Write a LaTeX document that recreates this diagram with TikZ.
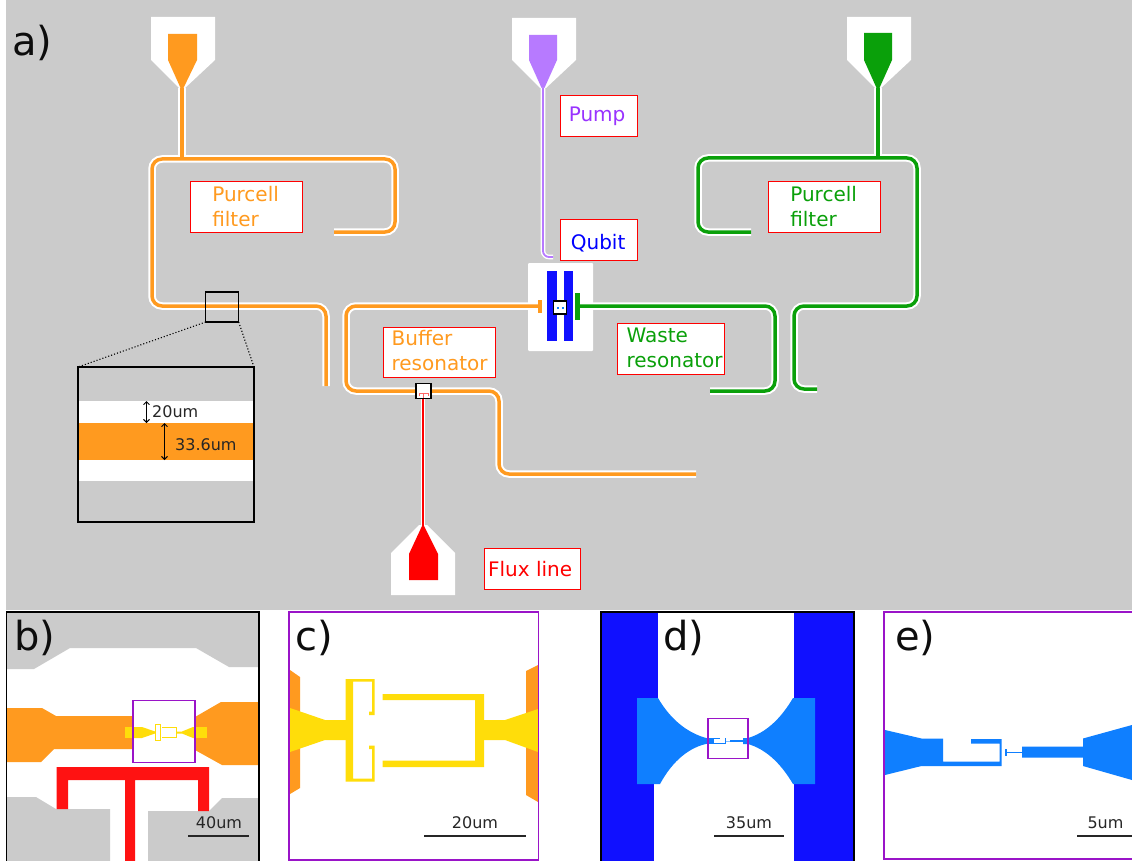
\documentclass[tikz,border=0pt]{standalone}
\usepackage{fontspec}
\setmainfont{DejaVu Sans}
\usetikzlibrary{arrows.meta}
\definecolor{chipgray}{HTML}{CBCBCB}
\definecolor{traceorange}{HTML}{FF9A1F}
\definecolor{tracepurple}{HTML}{B77AFF}
\definecolor{labelpurple}{HTML}{9933FF}
\definecolor{tracegreen}{HTML}{0AA00A}
\definecolor{qubitblue}{HTML}{1010FF}
\definecolor{jjblue}{HTML}{0F7FFF}
\definecolor{fluxred}{HTML}{FF1212}
\definecolor{jjyellow}{HTML}{FFDD0A}
\definecolor{framepurple}{HTML}{9A14C8}

\begin{document}
\begin{tikzpicture}[x=1pt,y=-1pt]
        \tikzset{label style/.style={draw=red, fill=white, line width=1.2pt, anchor=north west, align=left, inner sep=0pt, font=\fontsize{20}{25}\selectfont}}
        \tikzset{trace style/.style={draw=white, line width=2pt, double=#1, double distance=3.5pt, rounded corners=10pt}}
        \tikzset{thin trace style/.style={draw=white, line width=1.4pt, double=#1, double distance=1.8pt, rounded corners=6pt}}
        \tikzset{panel text/.style={anchor=base west, inner sep=0pt, text=black!95, font=\fontsize{40}{42}\selectfont}}
        \tikzset{scale text/.style={inner sep=0pt, text=black!85, font=\fontsize{16}{18}\selectfont}}
        \tikzset{scale bar/.style={line width=1.2pt, black!85}}
        \tikzset{zoom box/.style={draw=black, line width=1.2pt, inner sep=0pt, outer sep=0pt}}

        \useasboundingbox (0,0) rectangle (1132,861);
        \fill[white] (0,0) rectangle (1132,861);
        \fill[chipgray] (6,0) rectangle (1132,610);

        % launch pads
        \fill[white] (151,17) -- (215,17) -- (215,60) -- (185,88) -- (179,88) -- (151,60) -- cycle;
        \fill[traceorange] (168,34) -- (197,34) -- (197,60) -- (183,89) -- (181,89) -- (168,60) -- cycle;
        \fill[white] (512,18) -- (576,18) -- (576,60) -- (546,88) -- (540,88) -- (512,60) -- cycle;
        \fill[tracepurple] (529,35) -- (557,35) -- (557,60) -- (544,89) -- (542,89) -- (529,60) -- cycle;
        \fill[white] (847,17) -- (911,17) -- (911,60) -- (881,88) -- (875,88) -- (847,60) -- cycle;
        \fill[tracegreen] (864,33) -- (892,33) -- (892,60) -- (879,89) -- (877,89) -- (864,60) -- cycle;
        \fill[white] (391,595) -- (455,595) -- (455,553) -- (427,525) -- (419,525) -- (391,553) -- cycle;
        \fill[red] (409,580) -- (438,580) -- (438,554) -- (424,526) -- (422,526) -- (409,554) -- cycle;

        % qubit island
        \fill[white, rounded corners=1pt] (528,263) rectangle (593,351);

        % feed lines and resonators
        \draw[trace style=traceorange] (182,88) -- (182,157);
        \draw[trace style=tracegreen] (878,88) -- (878,156);
        \draw[trace style=traceorange] (334,232) -- (395,232) -- (395,159) -- (152,159) -- (152,306) -- (326,306) -- (326,386);
        \draw[trace style=tracegreen] (751,232) -- (698,232) -- (698,158) -- (917,158) -- (917,306) -- (794,306) -- (794,389) -- (817,389);
        \draw[trace style=traceorange] (538,306) -- (346,306) -- (346,391) -- (499,391) -- (499,474) -- (696,474);
        \draw[trace style=tracegreen] (578,306) -- (775,306) -- (775,391) -- (710,391);
        \fill[traceorange] (180.2,150) rectangle (183.8,159);
        \fill[tracegreen] (876.2,150) rectangle (879.8,158);
        \draw[thin trace style=tracepurple] (543,88) -- (543,257) -- (553,257);
        \draw[draw=white, line width=1pt, double=red, double distance=2.6pt] (423,398) -- (423,526);

        \fill[qubitblue] (547,271) rectangle (556.5,341);
        \fill[qubitblue] (563.5,271) rectangle (573,341);
        \fill[traceorange] (537.5,300) rectangle (542,313);
        \fill[tracegreen] (575,293) rectangle (580,320);
        \node[zoom box, fill=white, minimum width=13pt, minimum height=13pt] (qubitzoom) at (560,307.5) {};
        \fill[jjblue] (557,306.5) rectangle (559,308.5);
        \fill[jjblue] (561.5,306.5) rectangle (563.5,308.5);

        % flux line end
        \node[zoom box, fill=white, minimum width=15pt, minimum height=14.5pt] (fluxzoom) at (423.4,391) {};
        \draw[red!60, line width=.6pt] (419,396) -- (419,393) -- (428,393) -- (428,396);
        \draw[red!60, line width=.6pt] (423.4,393) -- (423.4,398);

        % zoom on the trace
        \fill[chipgray] (78,367) rectangle (254,522);
        \fill[white] (79,401) rectangle (254,481);
        \fill[traceorange] (79,423) rectangle (254,460);
        \node[zoom box, minimum width=33pt, minimum height=30pt] (tracezoom) at (222.2,307) {};
        \node[zoom box, line width=2.5pt, minimum width=176pt, minimum height=155pt] (traceinset) at (166,444.5) {};
        \draw[dotted, line width=1.1pt] (tracezoom.south west) -- (traceinset.north west);
        \draw[dotted, line width=1.1pt] (tracezoom.south east) -- (traceinset.north east);
        \coordinate (gaptop) at (146.5,401);
        \coordinate (gapbottom) at (146.5,423);
        \coordinate (widthtop) at (164.5,423);
        \coordinate (widthbottom) at (164.5,460);
        \draw[{Straight Barb[length=3pt,width=6pt]}-{Straight Barb[length=3pt,width=6pt]}, line width=.9pt] (gaptop) -- (gapbottom);
        \draw[{Straight Barb[length=3pt,width=6pt]}-{Straight Barb[length=3pt,width=6pt]}, line width=.9pt] (widthtop) -- (widthbottom);
        \node[scale text, anchor=west] (gaplabel) at (152,411.5) {20um};
        \node[scale text, anchor=west] (widthlabel) at (175,445) {33.6um};

        % labels
        \node[panel text] (panela) at (12,56) {a)};
        \node[label style, text=traceorange, minimum width=112pt, minimum height=51pt, text depth=2pt] (purcellleft) at (190,181) {Purcell\kern2pt\\filter};
        \node[label style, text=tracegreen, minimum width=112pt, minimum height=51pt, text depth=2pt] (purcellright) at (768,181) {Purcell\kern2pt\\filter};
        \node[label style, text=labelpurple, minimum width=77pt, minimum height=41pt] (pump) at (560,95) {Pump\kern4pt};
        \node[label style, text=blue, minimum width=77pt, minimum height=41pt, text height=18pt, text depth=0pt] (qubit) at (560,219) {Qubit\kern2pt};
        \node[label style, text=traceorange, minimum width=112pt, minimum height=50pt, text depth=4pt] (buffer) at (383,327) {Buffer\\resonator};
        \node[label style, text=tracegreen, minimum width=107pt, minimum height=51pt, text depth=2pt] (waste) at (617,323) {\kern7pt Waste\\\kern7pt resonator};
        \node[label style, text=red, minimum width=96pt, minimum height=41pt] (fluxlabel) at (484,548) {Flux line\kern5pt};

        % panel b
        \fill[chipgray] (7,612) -- (258,612) -- (258,667) -- (229,667) -- (196,648) -- (70,648) -- (34,669) -- (7,669) -- cycle;
        \fill[chipgray] (7,797) -- (36,797) -- (56,809) -- (110,809) -- (110,861) -- (7,861) -- cycle;
        \fill[chipgray] (148,811) -- (209,811) -- (222,798) -- (258,798) -- (258,861) -- (148,861) -- cycle;
        \fill[traceorange] (7,708) -- (42,708) -- (56,716) -- (133,716) -- (133,749) -- (54,749) -- (41,762) -- (7,762) -- cycle;
        \fill[traceorange] (195,717) -- (221,702) -- (258,702) -- (258,765) -- (222,765) -- (195,750) -- cycle;
        \fill[fluxred] (56.5,767) -- (209,767) -- (209,811) -- (198,811) -- (198,780) -- (135,780) -- (135,861) -- (125,861) -- (125,780) -- (68,780) -- (68,809) -- (56.5,809) -- cycle;
        \fill[jjyellow] (125,727) rectangle (133,738);
        \fill[jjyellow] (195,727) rectangle (207,738);
        \fill[jjyellow] (133,727) -- (142,727) -- (155,731.5) -- (155,733.5) -- (142,738) -- (133,738) -- cycle;
        \fill[jjyellow] (177,731.5) -- (182,731.5) -- (193,727) -- (195,727) -- (195,738) -- (193,738) -- (182,733.5) -- (177,733.5) -- cycle;
        \draw[jjyellow, line width=.7pt] (155.5,724.5) rectangle (160,740.5);
        \draw[jjyellow, line width=.7pt] (162,727) -- (176.5,727) -- (176.5,737.5) -- (162,737.5);
        \node[draw=framepurple, line width=1.5pt, inner sep=0pt, outer sep=0pt, minimum width=62pt, minimum height=62pt] (boxb) at (164,731.5) {};
        \draw[line width=1.2pt] (6.7,612) rectangle (259,862);
        \node[panel text] (panelb) at (14,650) {b)};
        \node[scale text] (scaleb) at (219,823) {40um};
        \draw[scale bar] (188,836) -- (249,836);

        % panel c
        \fill[traceorange] (290,670) -- (300,677) -- (300,788) -- (290,794) -- cycle;
        \fill[traceorange] (526,671) -- (538,665) -- (538,802) -- (526,795) -- cycle;
        \fill[jjyellow] (290,708) -- (325,720) -- (346,720) -- (346,740) -- (325,740) -- (290,752) -- cycle;
        \fill[jjyellow] (345.5,679) -- (374.5,679) -- (374.5,715) -- (369,715) -- (369,711.5) -- (372,711.5) -- (372,681.5) -- (353,681.5) -- (353,778.5) -- (372,778.5) -- (372,749) -- (369,749) -- (369,745.5) -- (374.5,745.5) -- (374.5,781.5) -- (345.5,781.5) -- cycle;
        \fill[jjyellow] (382.5,694) -- (484,694) -- (484,767) -- (382.5,767) -- (382.5,760.5) -- (475,760.5) -- (475,700) -- (382.5,700) -- cycle;
        \fill[jjyellow] (484,720) -- (505,720) -- (538,709) -- (538,752) -- (505,740) -- (484,740) -- cycle;
        \draw[draw=framepurple, line width=1.5pt] (289,612) rectangle (538.5,860);
        \node[panel text] (panelc) at (295,650) {c)};
        \node[scale text] (scalec) at (475,823) {20um};
        \draw[scale bar] (424,836) -- (526,836);

        % panel d
        \fill[qubitblue] (601,612) rectangle (658,700);
        \fill[qubitblue] (601,698) rectangle (640,784);
        \fill[qubitblue] (601,782) rectangle (653.5,861);
        \fill[qubitblue] (794,612) rectangle (854,861);
        \fill[jjblue] (637,698) -- (658,698) .. controls (672,722) and (690,734) .. (708,738.5) -- (713,739.5) -- (713,742.5) -- (708,743.5) .. controls (690,747) and (673,760) .. (660,784) -- (637,784) -- cycle;
        \fill[jjblue] (815,698) -- (793,698) .. controls (780,720) and (765,733) .. (748,738) -- (743,738) -- (743,744) -- (748,744) .. controls (765,749) and (780,762) .. (793,784) -- (815,784) -- cycle;
        \fill[jjblue] (708,738) rectangle (713.5,743.5);
        \draw[jjblue, line width=.8pt] (713.5,738) rectangle (725.5,743);
        \fill[white] (720,737) rectangle (725,739);
        \draw[jjblue!50, line width=.8pt] (725.5,741) -- (730,741);
        \draw[jjblue, line width=1.5pt] (730,741) -- (743,741);
        \node[draw=framepurple, line width=1.2pt, inner sep=0pt, outer sep=0pt, minimum width=40pt, minimum height=40pt] (boxd) at (728,738.5) {};
        \draw[line width=1.2pt] (601,612) rectangle (854,862);
        \node[panel text] (paneld) at (663,650) {d)};
        \node[scale text] (scaled) at (749,823) {35um};
        \draw[scale bar] (714,836) -- (784,836);

        % panel e
        \fill[jjblue] (885,730) -- (921.5,738.5) -- (943,738.5) -- (943,761.5) -- (999.5,761.5) -- (999.5,743.5) -- (971,743.5) -- (971,739) -- (1001.5,739) -- (1001.5,766) -- (921.5,766) -- (885,775) -- cycle;
        \fill[jjblue] (1005,749) rectangle (1007,755.5);
        \fill[jjblue] (1006,751.5) rectangle (1022,753);
        \fill[jjblue] (1022,746.5) -- (1083,746.5) -- (1083,738.5) -- (1132,725) -- (1132,780) -- (1083,766) -- (1083,757.5) -- (1022,757.5) -- cycle;
        \draw[draw=framepurple, line width=1.5pt] (1132,612) -- (884,612) -- (884,859) -- (1132,859);
        \node[panel text] (panele) at (895,650) {e)};
        \node[scale text] (scalee) at (1105.5,823) {5um};
        \draw[scale bar] (1077,836) -- (1132,836);
    \end{tikzpicture}
\end{document}
